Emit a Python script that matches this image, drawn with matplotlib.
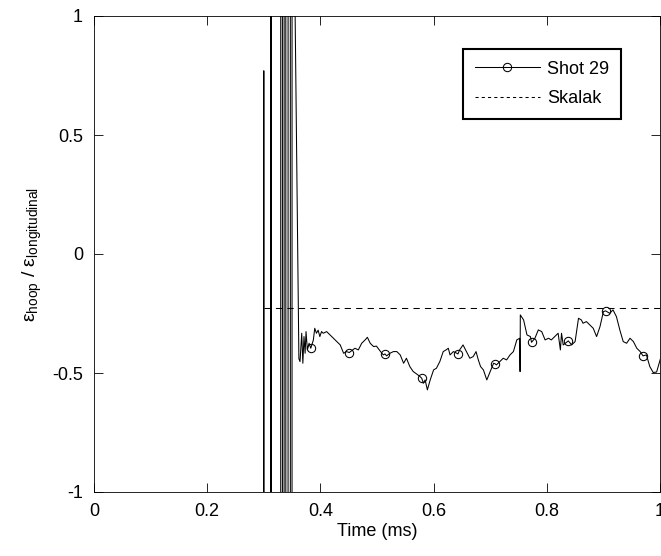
import numpy as np
import matplotlib
matplotlib.use("Agg")
import matplotlib.pyplot as plt
from matplotlib.lines import Line2D

plt.rcParams["font.family"] = ["Liberation Sans", "DejaVu Sans"]
plt.rcParams["mathtext.fontset"] = "custom"
plt.rcParams["mathtext.rm"] = "Liberation Sans"
plt.rcParams["mathtext.it"] = "Liberation Sans"

# strain ratio, shot 29 (time in ms)
# gauge ringing right after the trigger, values far off scale
t_ring = [0.2995, 0.3000, 0.3005, 0.3120, 0.3122, 0.3133, 0.3135,
          0.3298, 0.3300, 0.3328, 0.3330, 0.3358, 0.3360, 0.3388, 0.3390,
          0.3428, 0.3430, 0.3468, 0.3470, 0.3498, 0.3500, 0.3505, 0.3540, 0.3620]
r_ring = [-5, 0.77, -5, -5, 5, 5, -5,
          -5, 5, 5, -5, -5, 5, 5, -5,
          -5, 5, 5, -5, -5, 5, 5, 1.3, -0.44]

t_sig = [0.364, 0.367, 0.369, 0.371, 0.373, 0.3746, 0.377, 0.380, 0.383, 0.3875,
         0.390, 0.393, 0.396, 0.399, 0.402, 0.405, 0.411, 0.417, 0.423, 0.429,
         0.435, 0.441, 0.446, 0.451, 0.461, 0.467, 0.473, 0.479, 0.483, 0.488,
         0.494, 0.499, 0.505, 0.511, 0.514, 0.517, 0.523, 0.529, 0.535, 0.541,
         0.547, 0.552, 0.558, 0.564, 0.570, 0.576, 0.579, 0.582, 0.585, 0.589,
         0.594, 0.600, 0.605, 0.611, 0.617, 0.622, 0.626, 0.629, 0.635, 0.641,
         0.643, 0.646, 0.652, 0.658, 0.664, 0.670, 0.675, 0.679, 0.683, 0.688,
         0.694, 0.700, 0.706, 0.709, 0.711, 0.717, 0.723, 0.729, 0.735, 0.741,
         0.747, 0.752, 0.7528, 0.7532, 0.759, 0.765, 0.771, 0.773, 0.779, 0.785,
         0.791, 0.797, 0.803, 0.808, 0.814, 0.820, 0.824, 0.826, 0.829, 0.838,
         0.844, 0.850, 0.856, 0.861, 0.864, 0.870, 0.876, 0.882, 0.888, 0.894,
         0.900, 0.904, 0.911, 0.917, 0.923, 0.929, 0.935, 0.941, 0.947, 0.953,
         0.959, 0.965, 0.970, 0.976, 0.982, 0.988, 0.994, 1.002]
r_sig = [-0.452, -0.333, -0.459, -0.347, -0.417, -0.326, -0.403, -0.375, -0.396, -0.362,
         -0.312, -0.333, -0.320, -0.347, -0.326, -0.333, -0.326, -0.340, -0.354, -0.368,
         -0.382, -0.417, -0.410, -0.414, -0.396, -0.403, -0.375, -0.361, -0.350, -0.375,
         -0.389, -0.387, -0.406, -0.424, -0.420, -0.428, -0.417, -0.410, -0.410, -0.424,
         -0.459, -0.438, -0.473, -0.494, -0.504, -0.515, -0.522, -0.543, -0.529, -0.571,
         -0.529, -0.487, -0.480, -0.452, -0.410, -0.403, -0.396, -0.424, -0.410, -0.417,
         -0.420, -0.403, -0.382, -0.410, -0.438, -0.431, -0.410, -0.445, -0.473, -0.487,
         -0.529, -0.494, -0.459, -0.462, -0.466, -0.452, -0.438, -0.445, -0.424, -0.410,
         -0.361, -0.354, -0.494, -0.256, -0.277, -0.340, -0.347, -0.371, -0.354, -0.319,
         -0.326, -0.361, -0.354, -0.361, -0.347, -0.333, -0.403, -0.333, -0.382, -0.365,
         -0.382, -0.368, -0.270, -0.277, -0.291, -0.284, -0.298, -0.312, -0.347, -0.305,
         -0.242, -0.239, -0.249, -0.235, -0.263, -0.319, -0.368, -0.375, -0.354, -0.368,
         -0.396, -0.410, -0.428, -0.424, -0.473, -0.498, -0.496, -0.430]

# circle markers along the trace
t_mark = [0.383, 0.451, 0.514, 0.579, 0.643, 0.709, 0.773, 0.838, 0.904, 0.970]
r_mark = [-0.396, -0.414, -0.420, -0.522, -0.420, -0.462, -0.371, -0.365, -0.239, -0.428]

# Skalak prediction
t_skalak = [0.30, 1.0]
r_skalak = [-0.227, -0.227]

t = t_ring + t_sig
r = r_ring + r_sig

fig = plt.figure(figsize=(6.61, 5.56), dpi=100)
ax = fig.add_axes([94 / 661, 64 / 556, 566 / 661, 476 / 556])

ax.plot(t, r, color="k", lw=0.75)
ax.plot(t_mark, r_mark, "o", color="k", mfc="none", ms=6, mew=0.75)
ax.plot(t_skalak, r_skalak, color="k", lw=0.75, linestyle=(0, (6, 5)))

ax.set_xlim(0, 1)
ax.set_ylim(-1, 1)
ax.set_xticks([0, 0.2, 0.4, 0.6, 0.8, 1])
ax.set_xticklabels(["0", "0.2", "0.4", "0.6", "0.8", "1"])
ax.set_yticks([-1, -0.5, 0, 0.5, 1])
ax.set_yticklabels(["-1", "-0.5", "0", "0.5", "1"])
ax.tick_params(direction="in", length=6.5, width=0.6, top=True, right=True,
               labelsize=13, pad=8)
for s in ax.spines.values():
    s.set_linewidth(0.6)

ax.set_xlabel("Time (ms)", fontsize=13, labelpad=2)
ax.set_ylabel(r"$\mathrm{\epsilon}_{\mathrm{hoop}}$ / $\mathrm{\epsilon}_{\mathrm{longitudinal}}$",
              fontsize=14, labelpad=6)

handles = [Line2D([], [], color="k", lw=0.75, marker="o", mfc="none", ms=6, mew=0.75),
           Line2D([], [], color="k", lw=0.75, linestyle=(0, (3, 3)))]
leg = ax.legend(handles, ["Shot 29", "Skalak"], loc="upper right",
                bbox_to_anchor=(0.931, 0.931), borderaxespad=0, fontsize=13,
                handlelength=3.6, fancybox=False, framealpha=1,
                edgecolor="k", borderpad=0.65, labelspacing=0.7, handletextpad=0.4)
leg.get_frame().set_linewidth(1.5)

fig.savefig("out.png", dpi=100)
